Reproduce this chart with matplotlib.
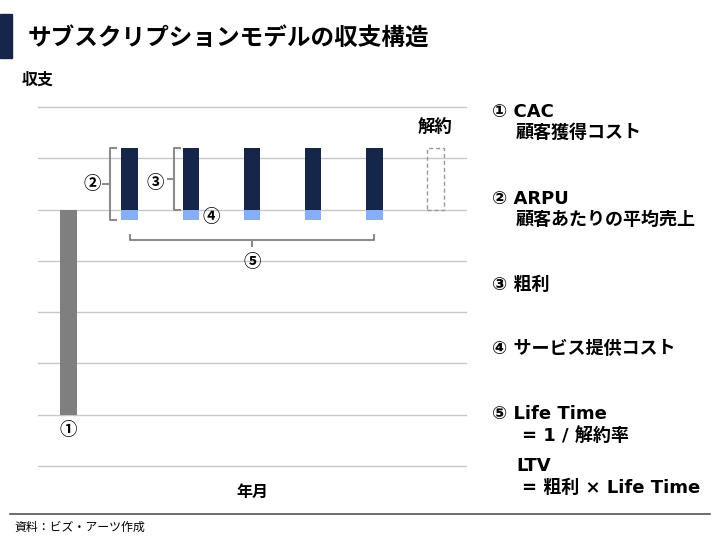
import matplotlib.pyplot as plt
import matplotlib.patches as patches

plt.rcParams['font.family'] = ['Noto Sans CJK JP', 'DejaVu Sans']

# chart data
cac_month = [0]
cac_value = [-4.0]
months = [1, 2, 3, 4, 5]
gross_profit = [1.2, 1.2, 1.2, 1.2, 1.2]
service_cost = [-0.2, -0.2, -0.2, -0.2, -0.2]
churn_month = [6]
churn_value = [1.2]
grid_levels = [2, 1, 0, -1, -2, -3, -4, -5]

# legend text and its pixel position (x, y from top-left)
legend_lines = [
    ("① CAC", 492, 112), ("顧客獲得コスト", 516, 133),
    ("② ARPU", 492, 199), ("顧客あたりの平均売上", 516, 220),
    ("③ 粗利", 492, 285),
    ("④ サービス提供コスト", 492, 349),
    ("⑤ Life Time", 492, 414), ("= 1 / 解約率", 522, 437),
    ("LTV", 516, 466), ("= 粗利 × Life Time", 522, 488),
]

NAVY = "#16264a"
LIGHT = "#86aef7"
GRAY = "#7f7f7f"
BRACKET = "#8c8c8c"

fig = plt.figure(figsize=(7.2, 5.4), dpi=100)
ax = fig.add_axes([38 / 720, 1 - 466 / 540, (466 - 38) / 720, (466 - 107) / 540])
ax.set_xlim(-0.5, 6.5)
ax.set_ylim(-5, 2)
ax.axis("off")

for g in grid_levels:
    ax.axhline(g, color="#c8c8c8", lw=1, zorder=0, clip_on=False)

w = 0.27
ax.bar(cac_month, cac_value, width=w, color=GRAY, zorder=2)
ax.bar(months, gross_profit, width=w, color=NAVY, zorder=2)
ax.bar(months, service_cost, width=w, color=LIGHT, zorder=2)
ax.bar(churn_month, churn_value, width=w, facecolor="none", edgecolor="#999999",
       linestyle=(0, (3, 2)), lw=1, zorder=2)

def vbracket(x, y0, y1, ext=0.11, mid=0.1):
    ax.plot([x + ext, x, x, x + ext], [y1, y1, y0, y0], color=BRACKET, lw=1.5,
            clip_on=False, zorder=3)
    ym = (y0 + y1) / 2
    ax.plot([x, x - mid], [ym, ym], color=BRACKET, lw=1.5, clip_on=False, zorder=3)

vbracket(0.67, -0.2, 1.2)
vbracket(1.72, 0.0, 1.2)

# life time bracket
ax.plot([1, 1, 5, 5], [-0.5, -0.6, -0.6, -0.5], color=BRACKET, lw=1.5, zorder=3)
ax.plot([3, 3], [-0.6, -0.72], color=BRACKET, lw=1.5, zorder=3)

lab = dict(fontsize=12.5, fontweight="bold", ha="center", va="center")
ax.text(0.38, 0.5, "②", **lab)
ax.text(1.41, 0.52, "③", **lab)
ax.text(2.34, -0.14, "④", **lab)
ax.text(3.0, -1.02, "⑤", **lab)
ax.text(0.0, -4.3, "①", **lab)
ax.text(6.0, 1.6, "解約", **lab)

# header
fig.add_artist(patches.Rectangle((0, 1 - 58 / 540), 12 / 720, 44 / 540,
                                 transform=fig.transFigure, color=NAVY))
fig.text(28 / 720, 1 - 38 / 540, "サブスクリプションモデルの収支構造",
         fontsize=17, fontweight="bold", va="center")
fig.text(22 / 720, 1 - 80 / 540, "収支", fontsize=11.5, fontweight="bold", va="center")
fig.text(252 / 720, 1 - 492 / 540, "年月", fontsize=11.5, fontweight="bold",
         ha="center", va="center")

for txt, x, y in legend_lines:
    fig.text(x / 720, 1 - y / 540, txt, fontsize=13, fontweight="bold", va="center",
             family=["DejaVu Sans", "Noto Sans CJK JP"])

fig.add_artist(plt.Line2D([10 / 720, 710 / 720], [1 - 514 / 540] * 2,
                          transform=fig.transFigure, color="#555555", lw=1.2))
fig.text(14 / 720, 1 - 527 / 540, "資料：ビズ・アーツ作成", fontsize=8.6, va="center")

fig.savefig("out.png", dpi=100)
